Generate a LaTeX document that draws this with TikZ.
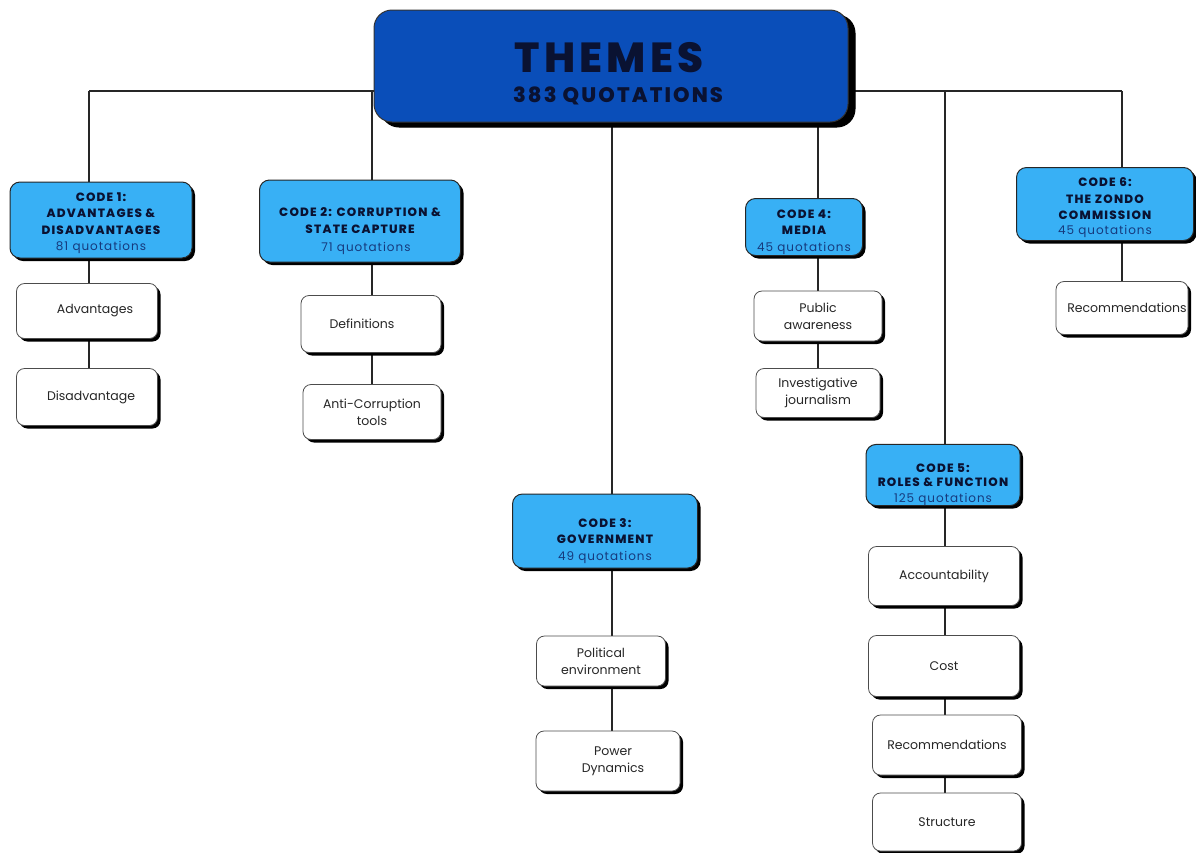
\documentclass[tikz,border=0pt]{standalone}
\usepackage{fontspec}
\setmainfont{Poppins}
\newfontfamily\spaced[LetterSpace=10, BoldFont={Poppins ExtraBold}]{Poppins}
\newfontfamily\qfont[LetterSpace=8]{Poppins}
\usetikzlibrary{shadows,backgrounds}
\definecolor{themeblue}{RGB}{10,78,185}
\definecolor{codeblue}{RGB}{56,176,245}
\definecolor{navy}{RGB}{10,18,50}
\definecolor{qblue}{RGB}{22,58,125}
\tikzset{
  themebox/.style={draw=black!80, line width=1pt, fill=themeblue, rounded corners=18pt,
    copy shadow={opacity=1, shadow xshift=7pt, shadow yshift=-5pt, fill=black, draw=black},
    align=center, text=navy, inner sep=0pt},
  codebox/.style={draw=black!85, line width=1pt, fill=codeblue, rounded corners=10pt,
    drop shadow={opacity=1, shadow xshift=3pt, shadow yshift=-3pt, fill=black},
    align=center, text=navy, inner sep=0pt,
    font=\spaced\bfseries\fontsize{12}{16.5}\selectfont},
  subbox/.style={draw=black!70, line width=0.8pt, fill=white, rounded corners=8pt,
    drop shadow={opacity=1, shadow xshift=3pt, shadow yshift=-3pt, fill=black},
    align=center, text=black!85, inner sep=0pt,
    font=\fontsize{12.5}{17}\selectfont},
  link/.style={draw=black!85, line width=1.1pt}
}
\newcommand{\qt}[1]{{\qfont\mdseries\color{qblue}\fontsize{12}{15}\selectfont #1}}
\newcommand{\lift}[1]{\rule{0pt}{#1pt}}
\begin{document}
\begin{tikzpicture}[x=1pt,y=-1pt]
\useasboundingbox (0,0) rectangle (1196,852);

% top
\node[themebox, minimum width=474, minimum height=112] (themes) at (611,66) {};
\node[text=navy, font=\spaced\bfseries\fontsize{42}{42}\selectfont] (tt) at (609,58) {THEMES};
\node[text=navy, font=\spaced\bfseries\fontsize{21}{22}\selectfont] (tq) at (618,96) {383 QUOTATIONS};

% code boxes
\node[codebox, minimum width=182, minimum height=76] (c1) at (101,220)
  {\lift{15}CODE 1:\\ADVANTAGES \&\\DISADVANTAGES\\[0pt]\qt{81 quotations}};
\node[codebox, minimum width=201, minimum height=82] (c2) at (360,221)
  {\lift{30}CODE 2: CORRUPTION \&\\STATE CAPTURE\\[2pt]\qt{\hspace*{12pt}71 quotations}};
\node[codebox, minimum width=185, minimum height=74] (c3) at (605,531)
  {\lift{29}CODE 3:\\GOVERNMENT\\[0pt]\qt{49 quotations}};
\node[codebox, minimum width=117, minimum height=57] (c4) at (804,227)
  {\lift{19}CODE 4:\\MEDIA\\[0pt]\qt{45 quotations}};
\node[codebox, minimum width=154, minimum height=60] (c5) at (943,475)
  {\lift{28}CODE 5:\\[-2pt]ROLES \& FUNCTION\\[-1pt]\qt{125 quotations}};
\node[codebox, minimum width=177, minimum height=73] (c6) at (1105,204)
  {\lift{16}CODE 6:\\THE ZONDO\\COMMISSION\\[-2pt]\qt{45 quotations}};

% sub boxes
\node[subbox, minimum width=141, minimum height=55] (s1a) at (87,311) {\hspace*{16pt}Advantages};
\node[subbox, minimum width=141, minimum height=57] (s1b) at (87,397) {\hspace*{8pt}Disadvantage};
\node[subbox, minimum width=140, minimum height=57] (s2a) at (371,324) {\hspace*{-18pt}Definitions};
\node[subbox, minimum width=138, minimum height=55] (s2b) at (372,412) {Anti-Corruption\\tools};
\node[subbox, minimum width=128, minimum height=50] (s4a) at (818,316) {Public\\awareness};
\node[subbox, minimum width=124, minimum height=49] (s4b) at (818,393) {Investigative\\journalism};
\node[subbox, minimum width=132, minimum height=53] (s6a) at (1122,308) {\hspace*{10pt}Recommendations};
\node[subbox, minimum width=129, minimum height=50] (s3a) at (601,661) {Political\\environment};
\node[subbox, minimum width=144, minimum height=60] (s3b) at (608,761) {\hspace*{10pt}Power\\\hspace*{10pt}Dynamics};
\node[subbox, minimum width=151, minimum height=59] (s5a) at (944,576) {Accountability};
\node[subbox, minimum width=151, minimum height=61] (s5b) at (944,666) {Cost};
\node[subbox, minimum width=149, minimum height=60] (s5c) at (947,745) {Recommendations};
\node[subbox, minimum width=149, minimum height=58] (s5d) at (947,822) {Structure};

% connectors
\coordinate (bus) at (0,91);
\coordinate (x1) at (89,0);
\coordinate (x2) at (372,0);
\coordinate (x3) at (612,0);
\coordinate (x4) at (818,0);
\coordinate (x5) at (945,0);
\coordinate (x6) at (1122,0);
\begin{scope}[on background layer]
  \draw[link] (x1 |- bus) -- (x6 |- bus);
  \draw[link] (x1 |- bus) -- (x1 |- s1b.north);
  \draw[link] (x2 |- bus) -- (x2 |- s2b.north);
  \draw[link] (x3 |- themes.south) -- (x3 |- s3b.north);
  \draw[link] (x4 |- bus) -- (x4 |- s4b.north);
  \draw[link] (x5 |- bus) -- (x5 |- s5d.north);
  \draw[link] (x6 |- bus) -- (x6 |- s6a.north);
\end{scope}
\end{tikzpicture}
\end{document}
